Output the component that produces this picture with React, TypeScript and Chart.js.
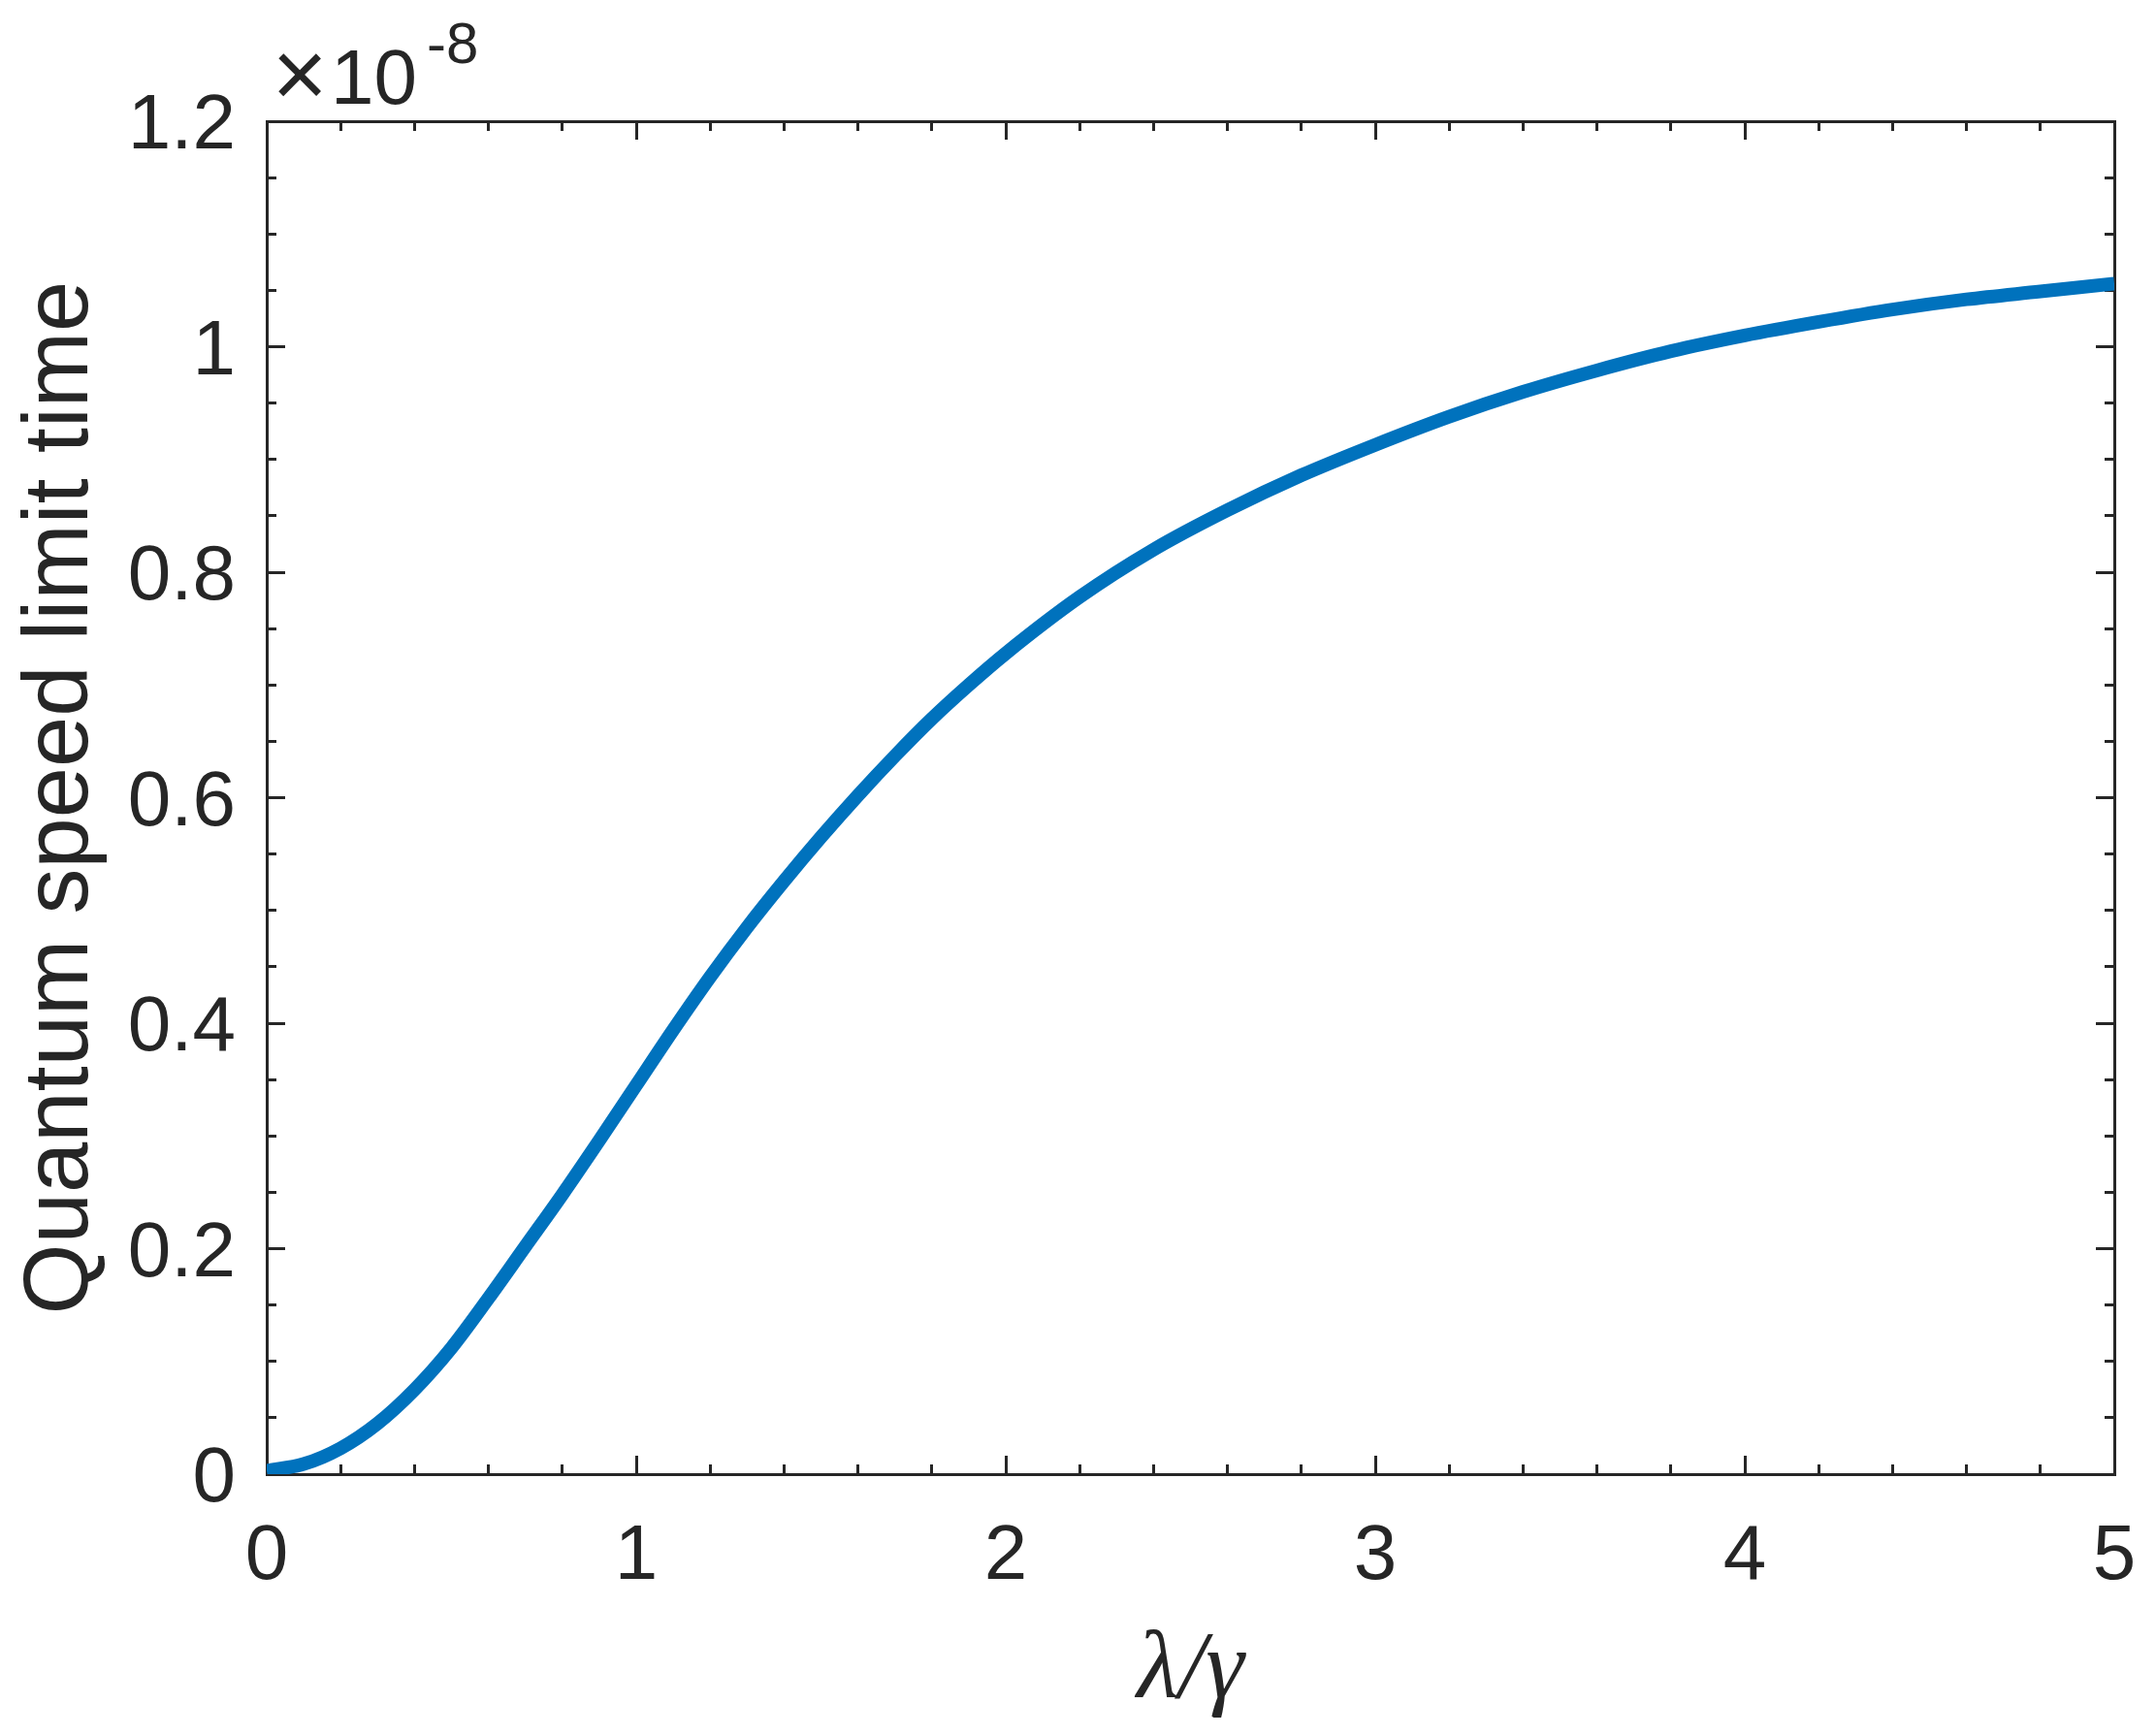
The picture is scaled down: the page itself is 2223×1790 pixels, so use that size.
import React, { useEffect, useRef } from 'react';
import { Chart, registerables } from 'chart.js';

Chart.register(...registerables);

// ---- data (lambda/gamma vs quantum speed limit time, in units of 1e-8) ----
const lambdaOverGamma = [
  0, 0.1, 0.2, 0.3, 0.4, 0.5, 0.6, 0.7, 0.8, 0.9, 1.0, 1.1, 1.2, 1.3, 1.4, 1.5,
  1.6, 1.7, 1.8, 1.9, 2.0, 2.2, 2.4, 2.6, 2.8, 3.0, 3.2, 3.4, 3.6, 3.8, 4.0, 4.2,
  4.4, 4.6, 4.8, 5.0,
];
const speedLimitTime = [
  0.003, 0.009, 0.023, 0.045, 0.075, 0.112, 0.156, 0.202, 0.248, 0.296, 0.345,
  0.394, 0.441, 0.485, 0.526, 0.565, 0.602, 0.637, 0.67, 0.7, 0.728, 0.778,
  0.82, 0.855, 0.886, 0.913, 0.938, 0.96, 0.979, 0.996, 1.01, 1.022, 1.033,
  1.042, 1.049, 1.056,
];
const xTickLabels = ['0', '1', '2', '3', '4', '5'];
const yTickLabels = ['0', '0.2', '0.4', '0.6', '0.8', '1', '1.2'];

const X_MIN = 0;
const X_MAX = 5;
const Y_MIN = 0;
const Y_MAX = 1.2;

const AXIS_COLOR = '#262626';
const LINE_COLOR = '#0072BD';
const SANS = '"Liberation Sans", Arial, Helvetica, sans-serif';
const SERIF = '"Liberation Serif", "Times New Roman", serif';

const W = 2223;
const H = 1790;

const exponentPlugin = {
  id: 'exponentLabel',
  afterDraw(chart: any) {
    const { ctx, chartArea } = chart;
    ctx.save();
    ctx.fillStyle = AXIS_COLOR;
    ctx.textAlign = 'center';
    ctx.textBaseline = 'middle';
    ctx.font = `98px ${SANS}`;
    ctx.fillText('\u00D7', chartArea.left + 34, chartArea.top - 42);
    ctx.textAlign = 'left';
    ctx.textBaseline = 'alphabetic';
    ctx.font = `80px ${SANS}`;
    ctx.fillText('10', chartArea.left + 66, chartArea.top - 18);
    ctx.font = `60px ${SANS}`;
    ctx.fillText('-8', chartArea.left + 165, chartArea.top - 60);
    ctx.restore();
  },
};

function tickGrid(len: number) {
  return {
    display: true,
    drawOnChartArea: false,
    drawTicks: true,
    tickLength: -len,
    tickWidth: 3,
    tickColor: AXIS_COLOR,
  };
}

function fixH(h: number) {
  return (s: any) => {
    s.height = h;
    s.paddingLeft = 0;
    s.paddingRight = 0;
  };
}
function fixW(w: number) {
  return (s: any) => {
    s.width = w;
    s.paddingTop = 0;
    s.paddingBottom = 0;
  };
}

export default function App() {
  const canvasRef = useRef<HTMLCanvasElement | null>(null);

  useEffect(() => {
    const canvas = canvasRef.current;
    if (!canvas) return;
    const points = lambdaOverGamma.map((x, i) => ({ x, y: speedLimitTime[i] }));

    const chart = new Chart(canvas, {
      type: 'line',
      data: {
        datasets: [
          {
            data: points,
            xAxisID: 'x',
            yAxisID: 'y',
            borderColor: LINE_COLOR,
            backgroundColor: LINE_COLOR,
            borderWidth: 14,
            borderCapStyle: 'butt',
            borderJoinStyle: 'round',
            pointRadius: 0,
            pointHoverRadius: 0,
            fill: false,
            cubicInterpolationMode: 'monotone',
          },
        ],
      },
      options: {
        responsive: false,
        animation: false,
        devicePixelRatio: 1,
        events: [],
        layout: { padding: { left: 0, right: 43, top: 125, bottom: 0 } },
        plugins: {
          legend: { display: false },
          tooltip: { enabled: false },
        },
        scales: {
          x: {
            type: 'linear',
            position: 'bottom',
            weight: 1,
            min: X_MIN,
            max: X_MAX,
            ticks: {
              stepSize: 1,
              autoSkip: false,
              maxRotation: 0,
              padding: 57,
              color: AXIS_COLOR,
              font: { family: SANS, size: 80 },
              callback: (_v: any, i: number) => xTickLabels[i],
            },
            grid: tickGrid(19),
            border: { display: true, color: AXIS_COLOR, width: 3 },
            title: {
              display: true,
              text: '\u03BB/\u03B3',
              color: AXIS_COLOR,
              font: { family: SERIF, size: 100, style: 'italic' },
              padding: { top: 0, bottom: 6 },
            },
            afterFit: fixH(H - 1520),
          },
          xMinor: {
            type: 'linear',
            position: 'bottom',
            weight: 0,
            min: X_MIN,
            max: X_MAX,
            ticks: { display: false, stepSize: 0.2, autoSkip: false },
            grid: tickGrid(10),
            border: { display: false },
            afterFit: fixH(0),
          },
          xTop: {
            type: 'linear',
            position: 'top',
            weight: 1,
            min: X_MIN,
            max: X_MAX,
            ticks: { display: false, stepSize: 1, autoSkip: false },
            grid: tickGrid(19),
            border: { display: true, color: AXIS_COLOR, width: 3 },
            afterFit: fixH(0),
          },
          xTopMinor: {
            type: 'linear',
            position: 'top',
            weight: 0,
            min: X_MIN,
            max: X_MAX,
            ticks: { display: false, stepSize: 0.2, autoSkip: false },
            grid: tickGrid(10),
            border: { display: false },
            afterFit: fixH(0),
          },
          y: {
            type: 'linear',
            position: 'left',
            weight: 1,
            min: Y_MIN,
            max: Y_MAX,
            ticks: {
              stepSize: 0.2,
              autoSkip: false,
              padding: 51,
              labelOffset: 6,
              color: AXIS_COLOR,
              font: { family: SANS, size: 80 },
              callback: (_v: any, i: number) => yTickLabels[i],
            },
            grid: tickGrid(19),
            border: { display: true, color: AXIS_COLOR, width: 3 },
            title: {
              display: true,
              text: 'Quantum speed limit time',
              color: AXIS_COLOR,
              font: { family: SANS, size: 94 },
              padding: { top: 8, bottom: 0 },
            },
            afterFit: fixW(275),
          },
          yMinor: {
            type: 'linear',
            position: 'left',
            weight: 0,
            min: Y_MIN,
            max: Y_MAX,
            ticks: { display: false, stepSize: 0.05, autoSkip: false },
            grid: tickGrid(10),
            border: { display: false },
            afterFit: fixW(0),
          },
          yRight: {
            type: 'linear',
            position: 'right',
            weight: 1,
            min: Y_MIN,
            max: Y_MAX,
            ticks: { display: false, stepSize: 0.2, autoSkip: false },
            grid: tickGrid(19),
            border: { display: true, color: AXIS_COLOR, width: 3 },
            afterFit: fixW(0),
          },
          yRightMinor: {
            type: 'linear',
            position: 'right',
            weight: 0,
            min: Y_MIN,
            max: Y_MAX,
            ticks: { display: false, stepSize: 0.05, autoSkip: false },
            grid: tickGrid(10),
            border: { display: false },
            afterFit: fixW(0),
          },
        },
      } as any,
      plugins: [exponentPlugin],
    });

    return () => {
      chart.destroy();
    };
  }, []);

  return (
    <div
      style={{
        position: 'absolute',
        left: 0,
        top: 0,
        width: W,
        height: H,
        background: '#ffffff',
      }}
    >
      <canvas ref={canvasRef} width={W} height={H} style={{ width: W, height: H, display: 'block' }} />
    </div>
  );
}
